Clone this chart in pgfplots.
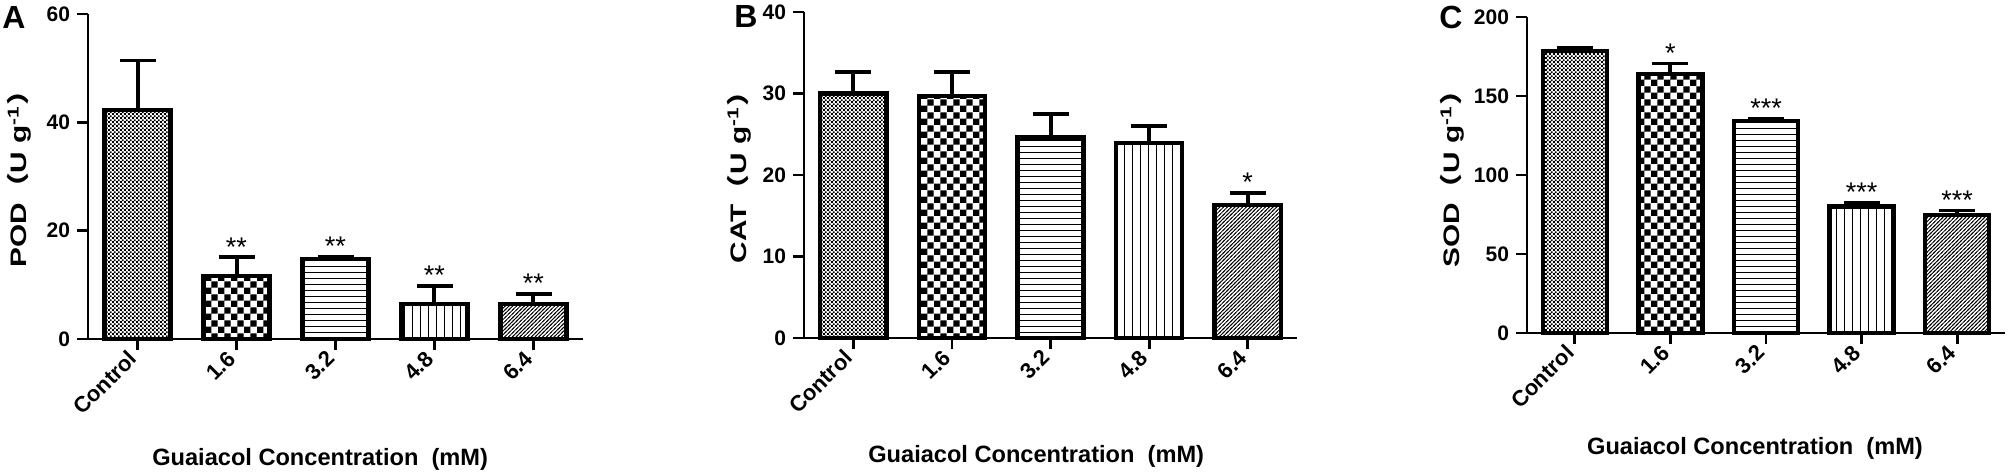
\documentclass[border=0pt]{standalone}
\usepackage{fontspec}
\setmainfont{Liberation Sans}
\newfontfamily\cjk[FakeStretch=1.33]{Noto Sans CJK SC}
\newfontfamily\ylfont[FakeStretch=1.33]{Liberation Sans}
\usepackage{pgfplots}
\pgfplotsset{compat=1.18}
\usetikzlibrary{patterns}

\pgfdeclarepatternformonly{finecheck}{\pgfpointorigin}{\pgfpoint{2.1pt}{2.1pt}}{\pgfpoint{2.1pt}{2.1pt}}{%
  \pgfpathrectangle{\pgfpointorigin}{\pgfpoint{1.05pt}{1.05pt}}%
  \pgfpathrectangle{\pgfpoint{1.05pt}{1.05pt}}{\pgfpoint{1.05pt}{1.05pt}}%
  \pgfusepath{fill}}
\pgfdeclarepatternformonly{coarsecheck}{\pgfpointorigin}{\pgfpoint{6.4pt}{6.4pt}}{\pgfpoint{6.4pt}{6.4pt}}{%
  \pgfpathrectangle{\pgfpointorigin}{\pgfpoint{3.2pt}{3.2pt}}%
  \pgfpathrectangle{\pgfpoint{3.2pt}{3.2pt}}{\pgfpoint{3.2pt}{3.2pt}}%
  \pgfusepath{fill}}
\pgfdeclarepatternformonly{hl}{\pgfpoint{-1pt}{-1pt}}{\pgfpoint{4pt}{4pt}}{\pgfpoint{3pt}{3pt}}{%
  \pgfsetlinewidth{0.5pt}%
  \pgfpathmoveto{\pgfpoint{-1pt}{1.5pt}}\pgfpathlineto{\pgfpoint{4pt}{1.5pt}}%
  \pgfusepath{stroke}}
\pgfdeclarepatternformonly{vl}{\pgfpoint{-1pt}{-1pt}}{\pgfpoint{5pt}{5pt}}{\pgfpoint{4pt}{4pt}}{%
  \pgfsetlinewidth{0.5pt}%
  \pgfpathmoveto{\pgfpoint{2pt}{-1pt}}\pgfpathlineto{\pgfpoint{2pt}{5pt}}%
  \pgfusepath{stroke}}
\pgfdeclarepatternformonly{diag}{\pgfpoint{-0.5pt}{-0.5pt}}{\pgfpoint{2.5pt}{2.5pt}}{\pgfpoint{1.9pt}{1.9pt}}{%
  \pgfsetlinewidth{0.4pt}%
  \pgfpathmoveto{\pgfpoint{-0.5pt}{-0.5pt}}\pgfpathlineto{\pgfpoint{2.4pt}{2.4pt}}%
  \pgfusepath{stroke}}

\pgfplotsset{
  panel/.style={
    scale only axis, clip=false,
    axis lines=left, axis line style={line width=1.4pt, -},
    xmin=-0.5, xmax=4.5, ymin=0,
    xtick={0,1,2,3,4}, xticklabels={Control,1.6,3.2,4.8,6.4},
    tick align=outside, major tick length=5.5pt,
    tick style={line width=1.4pt, black},
    /pgf/number format/assume math mode=true,
    xticklabel style={rotate=45, anchor=east, font=\bfseries\fontsize{11}{13}\selectfont},
    yticklabel style={font=\bfseries\fontsize{10.5}{12}\selectfont},
    ylabel style={font=\ylfont\bfseries\fontsize{11.2}{13}\selectfont, anchor=center},
    xlabel style={font=\bfseries\fontsize{11.8}{14}\selectfont, anchor=base},
    ybar, bar width=0.67, bar shift=0pt,
  },
  bstyle/.style={draw=black, line width=2.2pt, pattern=#1,
    error bars/.cd, y dir=plus, y explicit, error mark=|,
    error bar style={line width=2pt, solid},
    error mark options={line width=1.8pt, mark size=9pt, solid}},
  stars/.style={draw=none, mark=none, nodes near coords, point meta=explicit symbolic,
    every node near coord/.style={anchor=base, inner sep=0pt, yshift=0.6pt,
      font=\fontsize{13.5}{15}\selectfont}},
}

\begin{document}
\begin{tikzpicture}
\useasboundingbox (0,0) rectangle (1005pt,236.5pt);

% Panel A
\begin{axis}[panel, at={(44pt,67pt)}, anchor=south west,
  width=247.5pt, height=162.5pt, ymax=60, ytick={0,20,40,60},
  ylabel={POD{\cjk （}U g\textsuperscript{-1}{\cjk ）}},
  ylabel style={at={(axis description cs:-0.139,0.515)}},
  xlabel={Guaiacol Concentration\ \ (mM)},
  xlabel style={at={(axis description cs:0.469,-0.388)}}]
\addplot[bstyle=finecheck] coordinates {(0,42.3) +- (0,9.1)};
\addplot[bstyle=coarsecheck] coordinates {(1,11.6) +- (0,3.5)};
\addplot[bstyle=hl] coordinates {(2,14.8) +- (0,0.4)};
\addplot[bstyle=vl] coordinates {(3,6.5) +- (0,3.3)};
\addplot[bstyle=diag] coordinates {(4,6.5) +- (0,1.8)};
\addplot[stars] coordinates {(1,15.1)[**] (2,15.2)[**] (3,9.8)[**] (4,8.3)[**]};
\end{axis}

% Panel B
\begin{axis}[panel, at={(402pt,67.5pt)}, anchor=south west,
  width=246.5pt, height=163pt, ymax=40, ytick={0,10,20,30,40},
  ylabel={CAT{\cjk （}U g\textsuperscript{-1}{\cjk ）}},
  ylabel style={at={(axis description cs:-0.132,0.515)}},
  xlabel={Guaiacol Concentration\ \ (mM)},
  xlabel style={at={(axis description cs:0.471,-0.383)}}]
\addplot[bstyle=finecheck] coordinates {(0,30.0) +- (0,2.65)};
\addplot[bstyle=coarsecheck] coordinates {(1,29.7) +- (0,2.95)};
\addplot[bstyle=hl] coordinates {(2,24.6) +- (0,2.9)};
\addplot[bstyle=vl] coordinates {(3,23.9) +- (0,2.1)};
\addplot[bstyle=diag] coordinates {(4,16.3) +- (0,1.5)};
\addplot[stars] coordinates {(4,17.8)[*]};
\end{axis}

% Panel C
\begin{axis}[panel, at={(763.5pt,70pt)}, anchor=south west,
  width=239pt, height=158pt, ymax=200, ytick={0,50,100,150,200},
  ylabel={SOD{\cjk （}U g\textsuperscript{-1}{\cjk ）}},
  ylabel style={at={(axis description cs:-0.157,0.51)}},
  xlabel={Guaiacol Concentration\ \ (mM)},
  xlabel style={at={(axis description cs:0.477,-0.386)}}]
\addplot[bstyle=finecheck] coordinates {(0,178.5) +- (0,1.9)};
\addplot[bstyle=coarsecheck] coordinates {(1,163.8) +- (0,6.7)};
\addplot[bstyle=hl] coordinates {(2,134.3) +- (0,1.5)};
\addplot[bstyle=vl] coordinates {(3,80.0) +- (0,2.7)};
\addplot[bstyle=diag] coordinates {(4,74.5) +- (0,3.0)};
\addplot[stars] coordinates {(1,170.5)[*] (2,135.8)[***] (3,82.7)[***] (4,77.5)[***]};
\end{axis}

\node[anchor=base west, inner sep=0pt, font=\bfseries\fontsize{16}{18}\selectfont] at (1pt,222.5pt) {A};
\node[anchor=base west, inner sep=0pt, font=\bfseries\fontsize{16}{18}\selectfont] at (367pt,223pt) {B};
\node[anchor=base west, inner sep=0pt, font=\bfseries\fontsize{16}{18}\selectfont] at (719.5pt,222.5pt) {C};
\end{tikzpicture}
\end{document}
